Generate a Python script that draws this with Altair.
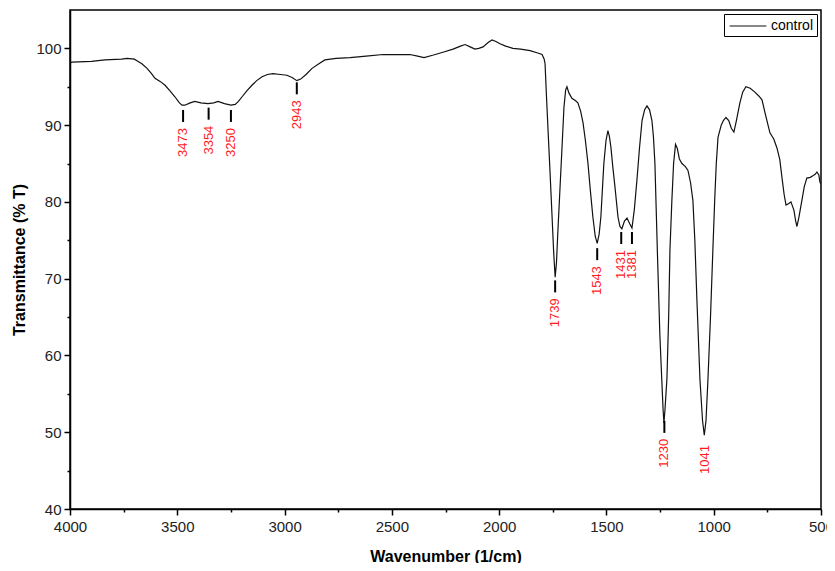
import altair as alt
import pandas as pd

# Spectrum (wavenumber in 1/cm, transmittance in % T)
wavenumber = [4000, 3991, 3900, 3837, 3760, 3734, 3700, 3688, 3665, 3641, 3620, 3604, 3580, 3557,
              3535, 3511, 3490, 3478, 3465, 3440, 3418, 3390, 3357, 3330, 3310, 3280, 3250, 3230,
              3215, 3198, 3175, 3152, 3130, 3105, 3080, 3054, 3020, 2989, 2965, 2943, 2925, 2900,
              2872, 2840, 2812, 2760, 2695, 2620, 2541, 2480, 2416, 2380, 2350, 2310, 2262, 2215,
              2180, 2159, 2135, 2113, 2095, 2075, 2050, 2033, 2015, 1996, 1970, 1936, 1900, 1856,
              1820, 1800, 1790, 1786, 1779, 1772, 1763, 1754, 1746, 1739, 1733, 1726, 1716, 1707,
              1698, 1690, 1684, 1675, 1661, 1645, 1633, 1620, 1609, 1598, 1586, 1575, 1563, 1552,
              1543, 1534, 1526, 1519, 1512, 1502, 1493, 1486, 1479, 1470, 1460, 1446, 1437, 1428,
              1416, 1404, 1392, 1381, 1370, 1358, 1346, 1334, 1322, 1311, 1299, 1288, 1281, 1274,
              1268, 1262, 1251, 1242, 1236, 1232, 1227, 1218, 1210, 1204, 1195, 1187, 1178, 1170,
              1160, 1148, 1132, 1120, 1108, 1097, 1088, 1078, 1064, 1052, 1044, 1036, 1027, 1015,
              1004, 995, 988, 980, 965, 955, 943, 930, 918, 906, 895, 878, 865, 850, 830, 808, 790,
              775, 760, 738, 720, 705, 692, 682, 672, 663, 650, 640, 626, 618, 612, 603, 589, 578,
              566, 550, 538, 527, 519, 510, 505, 500]
transmittance = [98.1, 98.2, 98.3, 98.5, 98.6, 98.7, 98.6, 98.4, 98.0, 97.4, 96.7, 96.1, 95.7, 95.2,
                 94.5, 93.7, 92.9, 92.6, 92.6, 92.9, 93.1, 92.9, 92.8, 92.9, 93.1, 92.8, 92.6, 92.7,
                 93.1, 93.7, 94.5, 95.2, 95.8, 96.3, 96.6, 96.7, 96.6, 96.5, 96.2, 95.8, 96.0, 96.6,
                 97.4, 98.0, 98.5, 98.7, 98.8, 99.0, 99.2, 99.2, 99.2, 99.0, 98.8, 99.1, 99.5, 99.9,
                 100.3, 100.5, 100.2, 99.9, 100.0, 100.2, 100.8, 101.1, 100.9, 100.6, 100.3, 100.0,
                 99.9, 99.7, 99.4, 99.2, 98.6, 98.0, 93.5, 89.3, 84.0, 78.5, 73.5, 70.2, 72.0, 76.3,
                 82.0, 87.1, 92.3, 94.6, 95.0, 94.2, 93.5, 93.2, 92.9, 91.8, 90.3, 88.0, 85.0, 81.5,
                 78.0, 75.5, 74.6, 75.8, 78.0, 81.5, 85.0, 88.0, 89.3, 88.5, 87.1, 84.5, 81.9, 78.0,
                 76.8, 76.5, 77.5, 77.9, 77.2, 76.6, 79.0, 82.8, 87.0, 90.6, 92.0, 92.5, 92.0, 90.6,
                 88.5, 85.0, 79.0, 73.0, 62.7, 56.8, 53.0, 51.2, 53.0, 57.0, 65.0, 73.7, 80.2, 85.0,
                 87.5, 87.0, 85.6, 85.0, 84.6, 84.1, 82.5, 80.2, 75.0, 67.0, 56.8, 51.5, 49.6, 51.5,
                 56.8, 65.0, 73.7, 80.5, 85.0, 88.4, 90.0, 90.6, 91.0, 90.6, 89.6, 89.1, 90.5, 92.9,
                 94.3, 95.0, 94.8, 94.3, 93.8, 93.3, 91.5, 89.0, 88.2, 87.0, 85.5, 83.2, 81.0, 79.6,
                 79.8, 80.0, 78.9, 77.5, 76.8, 78.0, 80.2, 82.0, 83.1, 83.2, 83.4, 83.6, 83.9, 83.5,
                 82.6, 82.3]
series_name = "control"

# Peak annotations
peak_wn = [3473, 3354, 3250, 2943, 1739, 1543, 1431, 1381, 1230, 1041]
peak_T = [92.5, 92.8, 92.5, 96.1, 70.3, 74.5, 76.6, 76.6, 52.0, 51.2]
peak_tick = [True, True, True, True, True, True, True, True, True, False]

spec = pd.DataFrame({"wn": wavenumber, "T": transmittance, "series": series_name})
peaks = pd.DataFrame({"wn": peak_wn, "T": peak_T, "label": [str(p) for p in peak_wn],
                      "tick": peak_tick})

FONT = "Liberation Sans"

x_scale = alt.Scale(domain=[500, 4000], reverse=True, nice=False, zero=False)
y_scale = alt.Scale(domain=[40, 105], nice=False, zero=False)

x_axis = alt.Axis(
    values=list(range(500, 4001, 250)),
    labelExpr="datum.value % 500 === 0 ? format(datum.value, 'd') : ''",
    tickSize={"condition": {"test": "datum.value % 500 === 0", "value": 6}, "value": 3},
    title="Wavenumber (1/cm)", grid=False, labelFlush=False,
    labelFontSize=15, titleFontSize=16, titleFontWeight="bold", titlePadding=14,
    labelPadding=4,
)
y_axis = alt.Axis(
    values=list(range(40, 101, 5)),
    labelExpr="datum.value % 10 === 0 ? format(datum.value, 'd') : ''",
    tickSize={"condition": {"test": "datum.value % 10 === 0", "value": 6}, "value": 3},
    title="Transmittance (% T)", grid=False,
    labelFontSize=15, titleFontSize=16, titleFontWeight="bold", titlePadding=8,
    labelPadding=3,
)

line = alt.Chart(spec).mark_line(strokeWidth=1.2, clip=True).encode(
    x=alt.X("wn:Q", scale=x_scale, axis=x_axis),
    y=alt.Y("T:Q", scale=y_scale, axis=y_axis),
    color=alt.Color("series:N", scale=alt.Scale(range=["#111111"]),
                    legend=alt.Legend(title=None, orient="top-right", offset=4,
                                      symbolType="M-2.3,0H2.3", symbolSize=256,
                                      symbolStrokeWidth=1.2, symbolOffset=12,
                                      labelFontSize=14, labelOffset=14,
                                      strokeColor="black", fillColor="white",
                                      padding=3)),
    order=alt.Order("wn:Q", sort="descending"),
)

ticks = alt.Chart(peaks).transform_filter("datum.tick").mark_rule(
    color="black", strokeWidth=2, yOffset=4, y2Offset=16
).encode(
    x=alt.X("wn:Q", scale=x_scale),
    y=alt.Y("T:Q", scale=y_scale),
    y2="T:Q",
)

labels = alt.Chart(peaks).mark_text(
    color="#ff1a1a", angle=270, align="right", baseline="middle", fontSize=13, font=FONT,
    yOffset=22,
).encode(
    x=alt.X("wn:Q", scale=x_scale),
    y=alt.Y("T:Q", scale=y_scale),
    text="label:N",
)

chart = alt.layer(line, ticks, labels).properties(
    width=751, height=499,
    autosize=alt.AutoSizeParams(type="none"),
    padding={"left": 62, "top": 2, "right": 6, "bottom": 54},
).configure_view(
    stroke="black", strokeWidth=1.5
).configure_axis(
    domainColor="black", domainWidth=1.5, tickColor="black", tickWidth=1.5,
    labelColor="#222222", titleColor="black", labelFont=FONT, titleFont=FONT,
).configure_legend(
    labelFont=FONT, labelColor="black",
)

chart.save("out.html", embed_options={"renderer": "svg", "actions": False})
